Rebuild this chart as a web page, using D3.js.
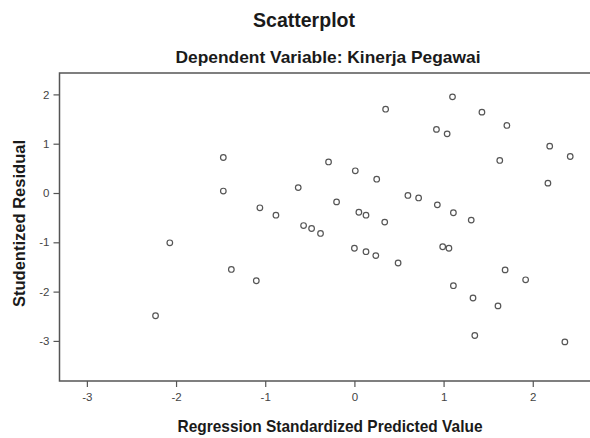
<!DOCTYPE html>
<html>
<head>
<meta charset="utf-8">
<script src="https://cdn.jsdelivr.net/npm/d3@7"></script>
<style>
  html, body { margin: 0; padding: 0; background: #fff; }
  svg { display: block; }
  text { font-family: "Liberation Sans", Arial, Helvetica, sans-serif; }
</style>
</head>
<body>
<svg id="chart" width="590" height="438"></svg>
<script>
// ---- Data ----
const predicted = [-2.07, -2.23, -1.47, -1.47, -1.06, -0.88, -0.29, 0.01, 0.25, -0.63,
  -0.20, 0.05, 0.13, -0.57, -0.48, -0.38, 0.00, 0.13, 0.24, -1.38,
  -1.10, 1.10, 0.35, 1.43, 1.71, 0.92, 1.04, 2.19, 2.42, 1.63,
  2.17, 0.60, 0.72, 0.93, 1.11, 1.31, 0.34, 0.99, 1.06, 0.49,
  1.69, 1.92, 1.11, 1.33, 1.61, 1.35, 2.36];
const residual = [-1.01, -2.49, 0.72, 0.04, -0.30, -0.45, 0.63, 0.45, 0.28, 0.11,
  -0.18, -0.39, -0.45, -0.66, -0.72, -0.82, -1.12, -1.19, -1.27, -1.55,
  -1.78, 1.95, 1.70, 1.64, 1.37, 1.29, 1.20, 0.95, 0.74, 0.66,
  0.20, -0.05, -0.10, -0.24, -0.40, -0.55, -0.59, -1.09, -1.12, -1.42,
  -1.56, -1.76, -1.88, -2.13, -2.29, -2.89, -3.02];
const xTicks = [-3, -2, -1, 0, 1, 2];
const yTicks = [-3, -2, -1, 0, 1, 2];
const titleText = "Scatterplot";
const subtitleText = "Dependent Variable: Kinerja Pegawai";
const xLabelText = "Regression Standardized Predicted Value";
const yLabelText = "Studentized Residual";

// ---- Layout ----
const svg = d3.select("#chart");
const plot = { left: 59.5, top: 73, right: 600, bottom: 381 };
const axisColor = "#555";

const x = d3.scaleLinear().domain([-3.307, 2.754]).range([plot.left, plot.right]);
const y = d3.scaleLinear().domain([-3.813, 2.434]).range([plot.bottom, plot.top]);

svg.append("rect").attr("width", 590).attr("height", 438).attr("fill", "#fff");

// Frame
svg.append("rect")
  .attr("x", plot.left).attr("y", plot.top)
  .attr("width", plot.right - plot.left).attr("height", plot.bottom - plot.top)
  .attr("fill", "#fff").attr("stroke", axisColor).attr("stroke-width", 1.5);

const fmt = d => String(d);

// Axes
const xAxis = svg.append("g")
  .attr("transform", `translate(0,${plot.bottom})`)
  .call(d3.axisBottom(x).tickValues(xTicks).tickFormat(fmt).tickSize(6).tickPadding(6));
const yAxis = svg.append("g")
  .attr("transform", `translate(${plot.left},0)`)
  .call(d3.axisLeft(y).tickValues(yTicks).tickFormat(fmt).tickSize(6).tickPadding(4));
[xAxis, yAxis].forEach(g => {
  g.select(".domain").remove();
  g.selectAll(".tick line").attr("stroke", axisColor).attr("stroke-width", 1.2);
  g.selectAll(".tick text").attr("fill", "#444").attr("font-size", 11.5)
    .attr("font-family", '"Liberation Sans", Arial, sans-serif');
});

// Points
svg.append("g").selectAll("circle")
  .data(predicted.map((p, i) => ({ p, r: residual[i] })))
  .join("circle")
  .attr("cx", d => x(d.p))
  .attr("cy", d => y(d.r))
  .attr("r", 2.8)
  .attr("fill", "none")
  .attr("stroke", "#555")
  .attr("stroke-width", 1.2);

// Titles
function label(txt, cx, cy, size, len, rotate) {
  const t = svg.append("text")
    .text(txt)
    .attr("text-anchor", "middle")
    .attr("font-weight", "bold")
    .attr("font-size", size)
    .attr("fill", "#1a1a1a")
    .attr("textLength", len)
    .attr("lengthAdjust", "spacingAndGlyphs");
  if (rotate) {
    t.attr("transform", `translate(${cx},${cy}) rotate(-90)`);
  } else {
    t.attr("x", cx).attr("y", cy);
  }
  return t;
}
label(titleText, 304, 27, 20, 102);
label(subtitleText, 328, 63, 17, 305);
label(xLabelText, 330, 432, 16.5, 305);
label(yLabelText, 25, 223.5, 16.5, 167, true);
</script>
</body>
</html>
